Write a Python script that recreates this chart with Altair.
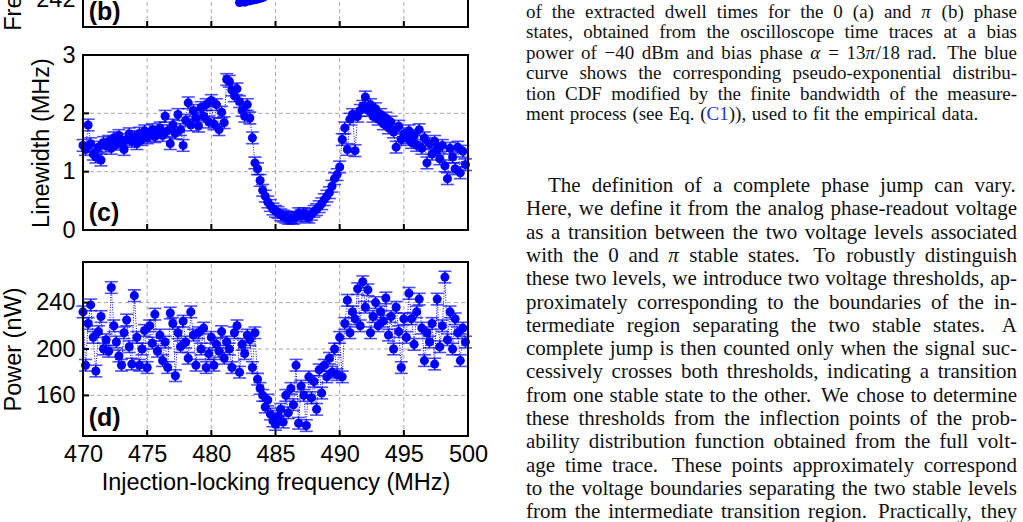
import re
import altair as alt
import pandas as pd

W, H = 1023, 522
BLUE = "#0000ff"
GRID = "#a8a8a8"

# ---------------------------------------------------------------- data ----
# injection-locking frequency sweep (MHz)
sweep_start, sweep_step = 470.0, 0.2

# (c) emission linewidth (MHz) along the sweep
linewidth_mhz = [
    1.45, 1.38, 1.80, 1.48, 1.30, 1.25, 1.42, 1.20, 1.50, 1.44,
    1.52, 1.40, 1.58, 1.47, 1.62, 1.50, 1.38, 1.55, 1.65, 1.52,
    1.60, 1.48, 1.66, 1.55, 1.70, 1.58, 1.62, 1.72, 1.60, 1.68,
    1.75, 1.62, 1.95, 1.70, 1.48, 1.80, 1.66, 1.98, 1.72, 1.45,
    1.88, 2.18, 1.80, 2.05, 1.92, 1.78, 2.10, 1.95, 2.15, 1.85,
    2.22, 1.82, 2.15, 1.72, 2.02, 1.84, 2.58, 2.55, 2.40, 2.30,
    2.42, 2.20, 2.05, 1.95, 2.15, 1.92, 1.58, 1.15, 1.05, 0.85,
    0.68, 0.58, 0.48, 0.42, 0.36, 0.32, 0.30, 0.26, 0.24, 0.22,
    0.20, 0.21, 0.20, 0.22, 0.28, 0.25, 0.28, 0.24, 0.22, 0.27,
    0.32, 0.35, 0.40, 0.45, 0.52, 0.58, 0.64, 0.75, 0.88, 0.95,
    1.08, 1.55, 1.75, 1.38, 1.90, 1.98, 1.36, 1.95, 2.05, 2.12,
    2.28, 2.05, 2.15, 1.95, 2.08, 1.90, 1.98, 1.82, 1.92, 1.75,
    1.85, 1.68, 1.42, 1.78, 1.55, 1.65, 1.58, 1.70, 1.50, 1.62,
    1.45, 1.72, 1.40, 1.58, 1.15, 1.48, 1.30, 1.52, 1.38, 1.22,
    1.45, 1.10, 0.88, 1.40, 1.25, 1.05, 1.42, 0.98, 1.35, 1.12,
]
linewidth_err = 0.1

# (d) emitted power (nW) along the sweep
power_nw = [
    232, 186, 222, 238, 210, 181, 215, 228, 200, 208,
    198, 253, 220, 206, 194, 186, 214, 225, 202, 187,
    246, 210, 186, 200, 216, 184, 220, 205, 230, 198,
    212, 190, 206, 184, 231, 222, 177, 214, 202, 224,
    206, 192, 232, 212, 186, 214, 200, 218, 184, 196,
    210, 186, 204, 198, 215, 192, 206, 200, 184, 214,
    220, 180, 204, 196, 212, 208, 184, 214, 174, 166,
    160, 150, 156, 144, 138, 135, 142, 148, 137, 160,
    145, 166, 152, 186, 136, 168, 160, 134, 176, 158,
    172, 148, 182, 162, 186, 176, 192, 180, 200, 178,
    210, 176, 222, 242, 214, 232, 226, 252, 220, 258,
    236, 251, 214, 228, 240, 220, 232, 224, 244, 212,
    228, 200, 236, 215, 184, 226, 210, 248, 226, 204,
    232, 243, 218, 190, 214, 206, 222, 187, 243, 202,
    220, 262, 208, 232, 200, 226, 214, 190, 218, 206,
]
power_err = 5.0

# (b) emission frequency (MHz), lower edge of the panel only
freq_b = [482.2, 482.4, 482.6, 482.8, 483.0, 483.2, 483.4, 483.6,
          483.8, 484.0, 484.2, 484.4, 484.6, 485.0]
emission_b = [241.95, 241.96, 241.955, 241.97, 241.975, 241.985, 241.99,
              242.00, 242.01, 242.02, 242.04, 242.07, 242.10, 242.15]

x_grid = [475, 480, 485, 490, 495]
x_labels = [470, 475, 480, 485, 490, 495, 500]

sweep = [round(sweep_start + sweep_step * i, 1) for i in range(len(linewidth_mhz))]

# --------------------------------------------------------------- panels ----
X_DOM = [470, 500]
X_RNG = [83, 468]
LEFT = X_RNG[0]
SANS = "Liberation Sans"
AXIS_FS = 23.5


def panel(df, y_dom, y_rng, y_ticks, y_title, tag, tag_at, err=None,
          bottom_axis=False, title_pad=8, dots=True):
    """Return the list of layers that make one framed panel."""
    xs = alt.Scale(domain=X_DOM, range=X_RNG, nice=False, zero=False)
    ys = alt.Scale(domain=y_dom, range=y_rng, nice=False, zero=False)
    lo, hi = y_dom
    one = pd.DataFrame({"k": [0]})
    inner_ticks = [v for v in y_ticks if lo < v < hi]

    def X(field):
        return alt.X(field, scale=xs, axis=None)

    def Y(field):
        return alt.Y(field, scale=ys, axis=None)

    layers = []
    # dashed grid
    layers.append(
        alt.Chart(pd.DataFrame({"t": x_grid})).mark_rule(
            color=GRID, strokeDash=[4, 3], strokeWidth=1).encode(
            x=X("t:Q"), y=alt.YDatum(lo, scale=ys, axis=None), y2=alt.datum(hi)))
    layers.append(
        alt.Chart(pd.DataFrame({"t": inner_ticks})).mark_rule(
            color=GRID, strokeDash=[4, 3], strokeWidth=1).encode(
            y=Y("t:Q"), x=alt.XDatum(X_DOM[0], scale=xs, axis=None),
            x2=alt.datum(X_DOM[1])))

    if dots:
        layers.append(
            alt.Chart(df).mark_line(color=BLUE, strokeDash=[1, 1.5], strokeWidth=1).encode(
                x=X("f:Q"), y=Y("v:Q")))
    if err is not None:
        df = df.assign(lo=df["v"] - err, hi=df["v"] + err)
        layers.append(
            alt.Chart(df).mark_rule(color=BLUE, strokeWidth=1.3).encode(
                x=X("f:Q"), y=Y("lo:Q"), y2="hi:Q"))
        for end in ("lo", "hi"):
            layers.append(
                alt.Chart(df).mark_tick(orient="horizontal", size=13, thickness=1.6,
                                        color=BLUE).encode(x=X("f:Q"), y=Y(end + ":Q")))

    if bottom_axis:
        x_axis = alt.Axis(orient="bottom", offset=y_rng[0] - H, values=x_labels,
                          format="d", grid=False, domain=False, ticks=False,
                          tickSize=0, labelPadding=6, labelFlush=False,
                          labelOverlap=False,
                          title="Injection-locking frequency (MHz)", titlePadding=5)
        x_enc = alt.X("f:Q", scale=xs, axis=x_axis)
    else:
        x_enc = X("f:Q")
    y_axis = alt.Axis(orient="left", offset=-LEFT, values=y_ticks, format="d",
                      grid=False, domain=False, ticks=False, tickSize=0,
                      labelPadding=8, labelOverlap=False, title=y_title,
                      titlePadding=title_pad)
    layers.append(
        alt.Chart(df).mark_circle(size=82, color=BLUE, opacity=1).encode(
            x=x_enc, y=alt.Y("v:Q", scale=ys, axis=y_axis)))

    # inward ticks on the bottom and left edges
    layers.append(
        alt.Chart(pd.DataFrame({"t": x_grid})).mark_rule(
            color="black", strokeWidth=2, y2Offset=-6).encode(
            x=X("t:Q"), y=alt.YDatum(lo, scale=ys, axis=None), y2=alt.datum(lo)))
    layers.append(
        alt.Chart(pd.DataFrame({"t": inner_ticks})).mark_rule(
            color="black", strokeWidth=2, x2Offset=6).encode(
            y=Y("t:Q"), x=alt.XDatum(X_DOM[0], scale=xs, axis=None),
            x2=alt.datum(X_DOM[0])))

    # frame
    layers.append(
        alt.Chart(one).mark_rect(fillOpacity=0, stroke="black", strokeWidth=2).encode(
            x=alt.XDatum(X_DOM[0], scale=xs, axis=None), x2=alt.datum(X_DOM[1]),
            y=alt.YDatum(lo, scale=ys, axis=None), y2=alt.datum(hi)))

    # panel tag
    layers.append(
        alt.Chart(pd.DataFrame({"f": [tag_at[0]], "v": [tag_at[1]], "t": [tag]})).mark_text(
            align="left", baseline="alphabetic", font=SANS, fontSize=25,
            fontWeight="bold", color="black").encode(
            x=X("f:Q"), y=Y("v:Q"), text="t:N"))
    return layers


df_b = pd.DataFrame({"f": freq_b, "v": emission_b})
df_c = pd.DataFrame({"f": sweep, "v": linewidth_mhz})
df_d = pd.DataFrame({"f": sweep, "v": power_nw})

panel_b = panel(df_b, [241.6, 244.1], [27, -148], [242],
                "Frequency (MHz)", "(b)", (470.45, 241.70), dots=False, title_pad=10)
panel_c = panel(df_c, [0, 3], [230, 55], [0, 1, 2, 3], "Linewidth (MHz)", "(c)",
                (470.45, 0.155), err=linewidth_err, title_pad=8)
panel_d = panel(df_d, [125, 275], [436, 262], [160, 200, 240], "Power (nW)", "(d)",
                (470.45, 133.6), err=power_err, bottom_axis=True, title_pad=10)

# ----------------------------------------------------------------- text ----
caption_lines = [
    "of the extracted dwell times for the 0 (a) and *π* (b) phase",
    "states, obtained from the oscilloscope time traces at a bias",
    "power of −40 dBm and bias phase *α* = 13*π*/18 rad. The blue",
    "curve shows the corresponding pseudo-exponential distribu-",
    "tion CDF modified by the finite bandwidth of the measure-",
    "ment process (see Eq. ([C1])), used to fit the empirical data.",
]
body_lines = [
    "The definition of a complete phase jump can vary.",
    "Here, we define it from the analog phase-readout voltage",
    "as a transition between the two voltage levels associated",
    "with the 0 and *π* stable states. To robustly distinguish",
    "these two levels, we introduce two voltage thresholds, ap-",
    "proximately corresponding to the boundaries of the in-",
    "termediate region separating the two stable states. A",
    "complete jump is then counted only when the signal suc-",
    "cessively crosses both thresholds, indicating a transition",
    "from one stable state to the other. We chose to determine",
    "these thresholds from the inflection points of the prob-",
    "ability distribution function obtained from the full volt-",
    "age time trace. These points approximately correspond",
    "to the voltage boundaries separating the two stable levels",
    "from the intermediate transition region. Practically, they",
]

# advance widths of Liberation Serif (1/1000 em)
SERIF_W = {" ": 250, ".": 250, ",": 250, "-": 333, "(": 333, ")": 333,
           "=": 564, "/": 278, "−": 564, "π": 540, "α": 540, ":": 278}
SERIF_W.update(zip("abcdefghijklmnopqrstuvwxyz",
                   [444, 500, 444, 500, 444, 333, 500, 500, 278, 278, 500, 278, 778,
                    500, 500, 500, 500, 333, 389, 278, 500, 500, 722, 500, 500, 444]))
SERIF_W.update(zip("ABCDEFGHIJKLMNOPQRSTUVWXYZ",
                   [722, 667, 667, 722, 611, 556, 722, 722, 333, 389, 722, 611, 889,
                    722, 722, 556, 722, 667, 556, 611, 722, 722, 944, 722, 722, 611]))
SERIF_W.update({d: 500 for d in "0123456789"})


def adv(s, fs):
    return sum(SERIF_W.get(ch, 500) for ch in s) * fs / 1000.0


def pieces(token):
    out = []
    for p in re.split(r"(\*[^*]+\*|\[[^\]]+\])", token):
        if not p:
            continue
        if p.startswith("*"):
            out.append((p[1:-1], "italic", "#111111"))
        elif p.startswith("["):
            out.append((p[1:-1], "plain", "#2233dd"))
        else:
            out.append((p, "plain", "#111111"))
    return out


TEXT_L, TEXT_R = 526, 1017


def set_lines(lines, y0, lead, fs, indent_first=0.0, ragged_last=False):
    """Justify each line between TEXT_L and TEXT_R, word by word."""
    rows = []
    for i, line in enumerate(lines):
        x0 = TEXT_L + (indent_first if i == 0 else 0)
        toks = line.split(" ")
        segs = [pieces(t) for t in toks]
        widths = [sum(adv(s, fs) for s, _, _ in sg) for sg in segs]
        # sentence ends get a slightly wider stretch, as in TeX
        weights = [1.4 if (t.endswith(".") and t != "Eq.") else 1.0 for t in toks[:-1]]
        if ragged_last and i == len(lines) - 1:
            unit = 0.3 * fs
        else:
            unit = (TEXT_R - x0 - sum(widths)) / sum(weights)
        x = x0
        y = y0 + i * lead
        for k, sg in enumerate(segs):
            cx = x
            for s, style, col in sg:
                rows.append({"x": cx, "y": y, "t": s, "fs": fs, "c": col, "s": style})
                cx += adv(s, fs)
            x += widths[k] + (unit * weights[k] if k < len(weights) else 0)
    return rows


rows = set_lines(caption_lines, 18.0, 20.4, 19.0, ragged_last=True)
rows += set_lines(body_lines, 192.0, 23.3, 21.0, indent_first=22)
text_df = pd.DataFrame(rows)


def text_layer(style):
    return alt.Chart(text_df[text_df["s"] == style]).mark_text(
        align="left", baseline="alphabetic", font="Liberation Serif",
        fontStyle="italic" if style == "italic" else "normal").encode(
        x=alt.X("x:Q", scale=None, axis=None),
        y=alt.Y("y:Q", scale=None, axis=None),
        text="t:N",
        size=alt.Size("fs:Q", scale=None, legend=None),
        color=alt.Color("c:N", scale=None, legend=None))


chart = alt.layer(
    *panel_b, *panel_c, *panel_d, text_layer("plain"), text_layer("italic")
).resolve_scale(
    x="independent", y="independent"
).properties(
    width=W, height=H, padding=0, autosize=alt.AutoSizeParams(type="none")
).configure_view(stroke=None).configure_axis(
    labelFont=SANS, labelFontSize=AXIS_FS, labelColor="black",
    titleFont=SANS, titleFontSize=AXIS_FS, titleColor="black", titleFontWeight="normal"
)

chart.save("out.html", embed_options={"renderer": "svg", "actions": False})
